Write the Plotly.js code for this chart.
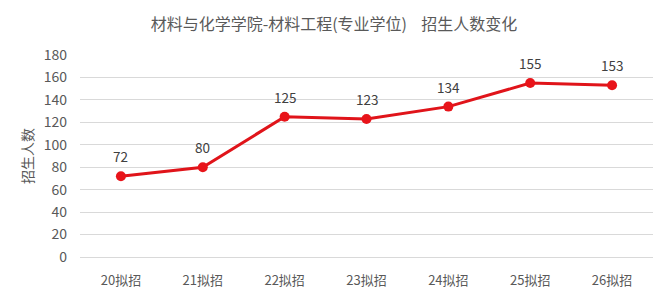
<!DOCTYPE html>
<html><head><meta charset="utf-8">
<script src="https://cdn.plot.ly/plotly-3.0.1.min.js"></script>
<style>html,body{margin:0;padding:0;background:#fff}</style>
</head><body><div id="c" style="width:667px;height:294px"></div>
<script>
const categories = ["20拟招","21拟招","22拟招","23拟招","24拟招","25拟招","26拟招"];
const values = [72, 80, 125, 123, 134, 155, 153];
const yTicks = [0,20,40,60,80,100,120,140,160,180];
const FONT = '"Noto Sans CJK SC", "Noto Sans", sans-serif';
const labels = categories.map((c, i) => ({
  x: c, y: values[i], text: String(values[i]), showarrow: false,
  yshift: 20, xanchor: 'center', yanchor: 'middle',
  font: {family: FONT, size: 13.5, color: '#404040'}
}));
Plotly.newPlot('c', [{
  x: categories, y: values, type: 'scatter', mode: 'lines+markers',
  line: {color: '#e0141a', width: 3},
  marker: {color: '#e8141a', size: 10},
  cliponaxis: false, hoverinfo: 'none'
}], {
  width: 667, height: 294,
  margin: {l: 80, r: 14, t: 55, b: 37},
  paper_bgcolor: '#fff', plot_bgcolor: '#fff',
  font: {family: FONT, color: '#595959', size: 12},
  title: {text: '材料与化学学院-材料工程(专业学位)\u00a0\u00a0\u00a0\u00a0招生人数变化', x: 334/667, xanchor: 'center', y: 1 - 24/294, yanchor: 'middle', font: {family: FONT, size: 16, color: '#595959'}},
  xaxis: {type: 'category', range: [-0.5, 6.5], showgrid: false, showline: false, zeroline: false, ticks: '', ticklabelstandoff: 14, tickfont: {family: FONT, size: 13, color: '#595959'}},
  yaxis: {range: [0, 180], tickvals: yTicks, showgrid: true, gridcolor: '#d9d9d9', gridwidth: 1, zeroline: true, zerolinecolor: '#d9d9d9', zerolinewidth: 1, showline: false, ticks: '', ticklabelstandoff: 12,
    tickfont: {family: FONT, size: 14, color: '#595959'},
    title: {text: '招生人数', standoff: 6, font: {family: FONT, size: 14, color: '#595959'}}},
  annotations: labels,
  showlegend: false
}, {displayModeBar: false, staticPlot: true});
</script></body></html>
